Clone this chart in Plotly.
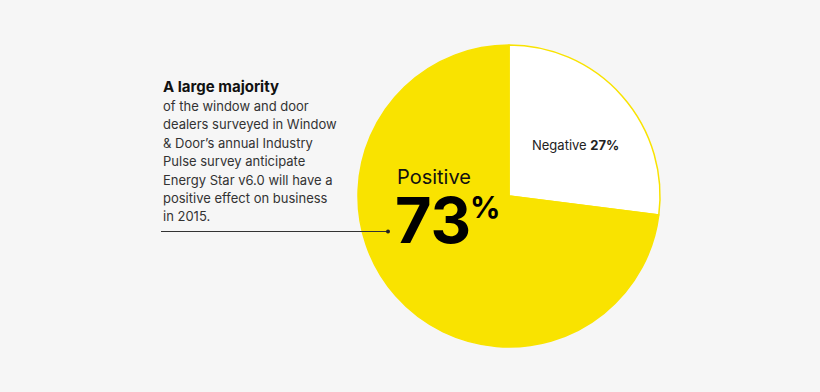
import plotly.graph_objects as go

labels = ["Negative", "Positive"]
values = [27, 73]
colors = ["#ffffff", "#f9e300"]

headline = "A large majority"
body_lines = [
    "of the window and door",
    "dealers surveyed in Window",
    "& Door\u2019s annual Industry",
    "Pulse survey anticipate",
    "Energy Star v6.0 will have a",
    "positive effect on business",
    "in 2015.",
]

W, H = 820, 392
BG = "#f6f6f6"
FONT = "Inter"

def px(x):
    return x / W

def py(y):
    return 1 - y / H

cx, cy, r = 509, 196, 151

fig = go.Figure(
    go.Pie(
        labels=labels,
        values=values,
        sort=False,
        direction="clockwise",
        rotation=0,
        marker=dict(colors=colors, line=dict(color="#f9e300", width=1.5)),
        textinfo="none",
        hoverinfo="label+percent",
        showlegend=False,
        domain=dict(x=[px(cx - r), px(cx + r)], y=[py(cy + r), py(cy - r)]),
    )
)

ann = []
ann.append(dict(x=px(161), y=py(87), text=f"<b>{headline}</b>", showarrow=False,
                xanchor="left", yanchor="middle", xref="paper", yref="paper",
                font=dict(family=FONT, size=15, color="#111111", weight=800)))
for i, line in enumerate(body_lines):
    ann.append(dict(x=px(161), y=py(106 + i * 18.4), text=line, showarrow=False,
                    xanchor="left", yanchor="middle", xref="paper", yref="paper",
                    font=dict(family=FONT, size=13, color="#333333")))

ann.append(dict(x=px(395), y=py(177), text=labels[1], showarrow=False,
                xanchor="left", yanchor="middle", xref="paper", yref="paper",
                font=dict(family=FONT, size=20, color="#111111")))
ann.append(dict(x=px(393), y=py(220), text=f"<b>{values[1]}</b>", showarrow=False,
                xanchor="left", yanchor="middle", xref="paper", yref="paper",
                font=dict(family=FONT, size=63, color="#000000", weight=900)))
ann.append(dict(x=px(468), y=py(207), text="<b>%</b>", showarrow=False,
                xanchor="left", yanchor="middle", xref="paper", yref="paper",
                font=dict(family=FONT, size=30, color="#000000", weight=900)))

ann.append(dict(x=px(530), y=py(145), text=f"{labels[0]} <b>{values[0]}%</b>", showarrow=False,
                xanchor="left", yanchor="middle", xref="paper", yref="paper",
                font=dict(family=FONT, size=13, color="#222222")))

shapes = [
    dict(type="line", xref="paper", yref="paper", x0=px(161), x1=px(388),
         y0=py(231.5), y1=py(231.5), line=dict(color="#333333", width=1.2)),
    dict(type="circle", xref="paper", yref="paper", x0=px(386), x1=px(390),
         y0=py(229.5), y1=py(233.5), fillcolor="#222222", line=dict(width=0)),
]

fig.update_layout(
    width=W, height=H,
    margin=dict(l=0, r=0, t=0, b=0),
    paper_bgcolor=BG, plot_bgcolor=BG,
    annotations=ann, shapes=shapes,
)

fig.write_html(
    "out.html",
    config={"displayModeBar": False},
    post_script="document.body.style.margin='0';document.body.style.background='%s';" % BG,
)
